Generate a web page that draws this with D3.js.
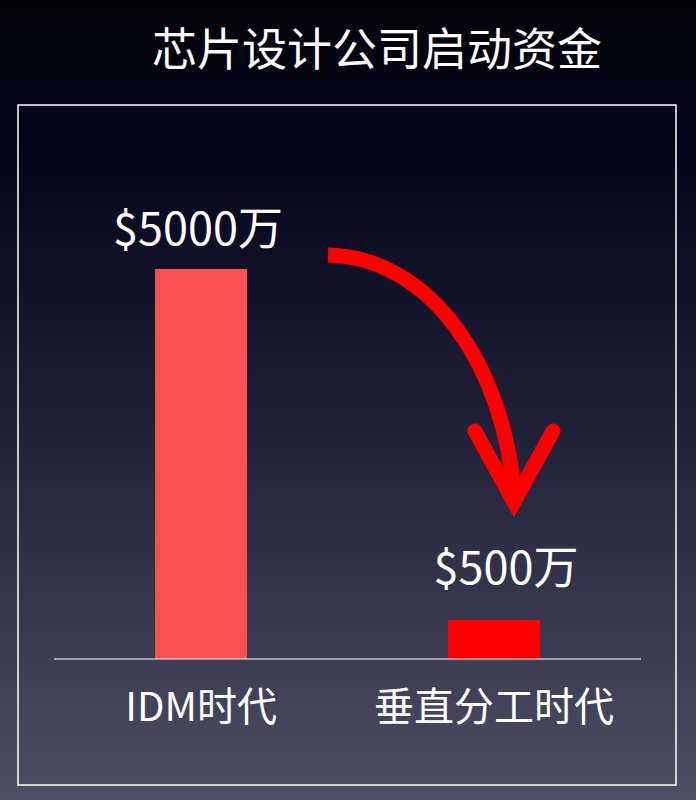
<!DOCTYPE html>
<html lang="zh">
<head>
  <meta charset="UTF-8">
  <title>芯片设计公司启动资金</title>
  <script src="https://d3js.org/d3.v7.min.js"></script>
  <style>
    body { margin: 0; background: #000; }
    svg text { font-family: "Noto Sans CJK SC", "Noto Sans", sans-serif; fill: #fff; }
  </style>
</head>
<body>
  <svg id="chart" width="696" height="800"></svg>

  <script>
    const title = "芯片设计公司启动资金";
    const categories = ["IDM时代", "垂直分工时代"];
    const values = [5000, 500];
    const valueLabels = ["$5000万", "$500万"];
    const barColors = ["#f95050", "#ff0000"];

    const svg = d3.select("#chart");
    const width = +svg.attr("width");
    const height = +svg.attr("height");

    // background gradient
    const grad = svg.append("defs").append("linearGradient")
      .attr("id", "bg")
      .attr("x1", 0).attr("y1", 0).attr("x2", 0).attr("y2", 1);
    grad.append("stop").attr("offset", "0%").attr("stop-color", "#020206");
    grad.append("stop").attr("offset", "18%").attr("stop-color", "#04041a");
    grad.append("stop").attr("offset", "50%").attr("stop-color", "#1d1d36");
    grad.append("stop").attr("offset", "100%").attr("stop-color", "#4e4f65");
    svg.append("rect").attr("width", width).attr("height", height).attr("fill", "url(#bg)");

    svg.append("text")
      .attr("x", 377).attr("y", 66)
      .attr("text-anchor", "middle")
      .style("font-size", "45px")
      .text(title);

    // frame
    svg.append("rect")
      .attr("x", 18).attr("y", 105)
      .attr("width", 658).attr("height", 680)
      .attr("fill", "none")
      .attr("stroke", "#fff")
      .attr("stroke-width", 1.5);

    const x = d3.scaleBand()
      .domain(categories)
      .range([54, 641])
      .paddingInner(0.686)
      .paddingOuter(0.345);

    const y = d3.scaleLinear()
      .domain([0, 5000])
      .range([659, 269]);

    svg.selectAll(".bar")
      .data(values)
      .enter().append("rect")
      .attr("class", "bar")
      .attr("x", (d, i) => x(categories[i]))
      .attr("y", d => y(d))
      .attr("width", x.bandwidth())
      .attr("height", d => y(0) - y(d))
      .attr("fill", (d, i) => barColors[i]);

    // baseline
    svg.append("line")
      .attr("x1", x.range()[0]).attr("x2", x.range()[1])
      .attr("y1", y(0)).attr("y2", y(0))
      .attr("stroke", "#fff")
      .attr("stroke-width", 1);

    // value labels
    const labelDx = [-3, 12];
    const labelDy = [-24, -36];
    svg.selectAll(".vlabel")
      .data(values)
      .enter().append("text")
      .attr("class", "vlabel")
      .attr("x", (d, i) => x(categories[i]) + x.bandwidth() / 2 + labelDx[i])
      .attr("y", (d, i) => y(d) + labelDy[i])
      .attr("text-anchor", "middle")
      .style("font-size", "45px")
      .text((d, i) => valueLabels[i]);

    // category labels
    svg.selectAll(".clabel")
      .data(categories)
      .enter().append("text")
      .attr("class", "clabel")
      .attr("x", d => x(d) + x.bandwidth() / 2)
      .attr("y", y(0) + 62)
      .attr("text-anchor", "middle")
      .style("font-size", "40px")
      .text(d => d);

    // arrow from first bar to second
    const sx = x(categories[0]) + x.bandwidth() + 81;
    const sy = y(values[0]) - 14;
    const tx = x(categories[1]) + x.bandwidth() / 2 + 20;
    const ty = y(values[1]) - 118;

    const shaft = d3.path();
    shaft.moveTo(sx, sy);
    shaft.bezierCurveTo(sx + 102, sy + 2, tx - 9, sy + 110, tx + 1, ty - 2);
    svg.append("path")
      .attr("d", shaft.toString())
      .attr("fill", "none")
      .attr("stroke", "#ff0000")
      .attr("stroke-width", 15);

    const head = d3.path();
    head.moveTo(tx - 39, ty - 71);
    head.lineTo(tx, ty);
    head.lineTo(tx + 39, ty - 71);
    svg.append("path")
      .attr("d", head.toString())
      .attr("fill", "none")
      .attr("stroke", "#ff0000")
      .attr("stroke-width", 15)
      .attr("stroke-linecap", "round")
      .attr("stroke-linejoin", "miter");
  </script>
</body>
</html>
